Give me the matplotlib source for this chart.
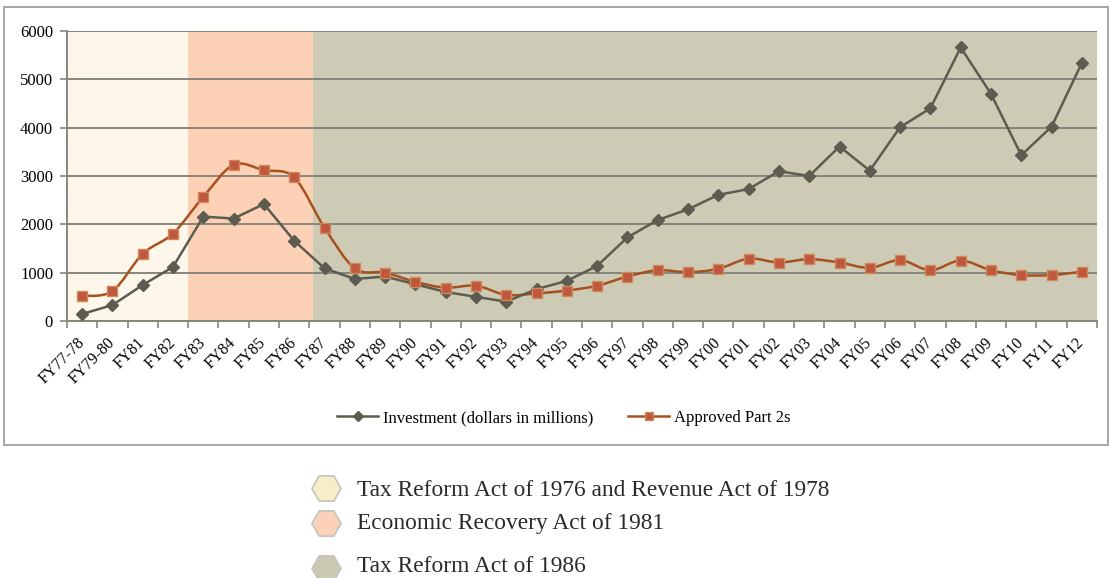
import numpy as np
import matplotlib
matplotlib.use("Agg")
import matplotlib.pyplot as plt
from matplotlib.path import Path
from matplotlib.patches import PathPatch, Rectangle
from matplotlib.lines import Line2D

years = ["FY77-78", "FY79-80", "FY81", "FY82", "FY83", "FY84", "FY85", "FY86",
         "FY87", "FY88", "FY89", "FY90", "FY91", "FY92", "FY93", "FY94", "FY95",
         "FY96", "FY97", "FY98", "FY99", "FY00", "FY01", "FY02", "FY03", "FY04",
         "FY05", "FY06", "FY07", "FY08", "FY09", "FY10", "FY11", "FY12"]

investment = [145, 330, 745, 1120, 2160, 2120, 2420, 1660, 1090, 870, 920, 760,
              600, 500, 400, 660, 830, 1140, 1730, 2090, 2310, 2610, 2730, 3100,
              3000, 3610, 3110, 4010, 4400, 5660, 4700, 3430, 4020, 5340]

approved = [520, 620, 1390, 1810, 2570, 3230, 3120, 2970, 1930, 1090, 1000, 810,
            690, 730, 540, 570, 630, 730, 920, 1050, 1010, 1080, 1290, 1210,
            1280, 1210, 1100, 1260, 1050, 1250, 1050, 950, 950, 1020]

# periods (start, end in category units)
periods = [(0, 4.0), (4.0, 8.12), (8.12, 34)]
period_colors = ["#fcf7ea", "#fcd1b6", "#cdcab5"]
period_labels = ["Tax Reform Act of 1976 and Revenue Act of 1978",
                 "Economic Recovery Act of 1981",
                 "Tax Reform Act of 1986"]
hex_colors = ["#f6eec8", "#fbd1b9", "#ccc9b3"]

serif = "Liberation Serif"
plt.rcParams["font.family"] = [serif, "DejaVu Serif"]

fig = plt.figure(figsize=(11.10, 5.78), dpi=100)
ax = fig.add_axes([67 / 1110, 1 - 321 / 578, 1030 / 1110, 290 / 578])

x = np.arange(len(years)) + 0.5

for (a, b), c in zip(periods, period_colors):
    ax.axvspan(a, b, color=c, lw=0, zorder=0)

ax.set_xlim(0, len(years))
ax.set_ylim(0, 6000)
ax.set_yticks(range(0, 6001, 1000))
ax.grid(axis="y", color="#86867c", lw=1.4, zorder=1)
ax.set_axisbelow(True)

ax.set_xticks(np.arange(len(years) + 1))
ax.set_xticklabels([])
ax.set_xticks(x, minor=True)
ax.set_xticklabels(years, minor=True, rotation=45, ha="right",
                   va="center", rotation_mode="anchor", fontsize=11.5)
ax.tick_params(axis="x", which="minor", length=0, pad=14)
ax.tick_params(axis="x", which="major", length=5, color="#86867c", width=1.2)
ax.tick_params(axis="y", length=5, color="#86867c", width=1.2, labelsize=12, pad=5)
for s in ["top", "right"]:
    ax.spines[s].set_visible(False)
for s in ["left", "bottom"]:
    ax.spines[s].set_color("#86867c")
    ax.spines[s].set_linewidth(1.4)

# investment line (straight)
ax.plot(x, investment, color="#5c5c50", lw=1.8, marker="D", ms=6.5,
        mfc="#5c5c50", mec="#5c5c50", zorder=4,
        label="Investment (dollars in millions)")

# approved line: smoothed curve through points
pts = np.column_stack([x, approved])
verts = [pts[0]]
codes = [Path.MOVETO]
n = len(pts)
for i in range(n - 1):
    p0 = pts[i - 1] if i > 0 else pts[i]
    p1 = pts[i]
    p2 = pts[i + 1]
    p3 = pts[i + 2] if i + 2 < n else pts[i + 1]
    c1 = p1 + (p2 - p0) / 6
    c2 = p2 - (p3 - p1) / 6
    verts += [c1, c2, p2]
    codes += [Path.CURVE4] * 3
ax.add_patch(PathPatch(Path(verts, codes), fc="none", ec="#a9501f", lw=1.8, zorder=3))
ax.plot(x, approved, ls="none", marker="s", ms=7, mfc="#c0573f", mec="#cf8a5a",
        mew=1.0, zorder=5)
ax.plot([], [], color="#a9501f", lw=1.8, marker="s", ms=7, mfc="#c0573f",
        mec="#cf8a5a", label="Approved Part 2s")

leg = fig.legend(loc="center", bbox_to_anchor=(564 / 1110, 1 - 418 / 578), ncol=2,
                 frameon=False, fontsize=12, handlelength=2.45, columnspacing=2.1,
                 handletextpad=0.3, markerscale=0.8)

# outer chart border
fig.add_artist(Rectangle((4 / 1110, 1 - 445 / 578), 1104 / 1110, 438 / 578,
                         transform=fig.transFigure, fill=False, ec="#a0a0a0", lw=1.3))

# period legend below
for yp, hp, lab, hc in zip([490, 524, 566], [488, 523, 568], period_labels, hex_colors):
    fig.add_artist(Line2D([326 / 1110], [1 - hp / 578], transform=fig.transFigure,
                          marker="H", ms=21, mfc=hc, mec="#c4c4bc", mew=1.2, ls="none"))
    fig.text(357 / 1110, 1 - yp / 578, lab, fontsize=16.8, color="#2a2a2a",
             va="center", ha="left")

fig.savefig("out.png", dpi=100)
